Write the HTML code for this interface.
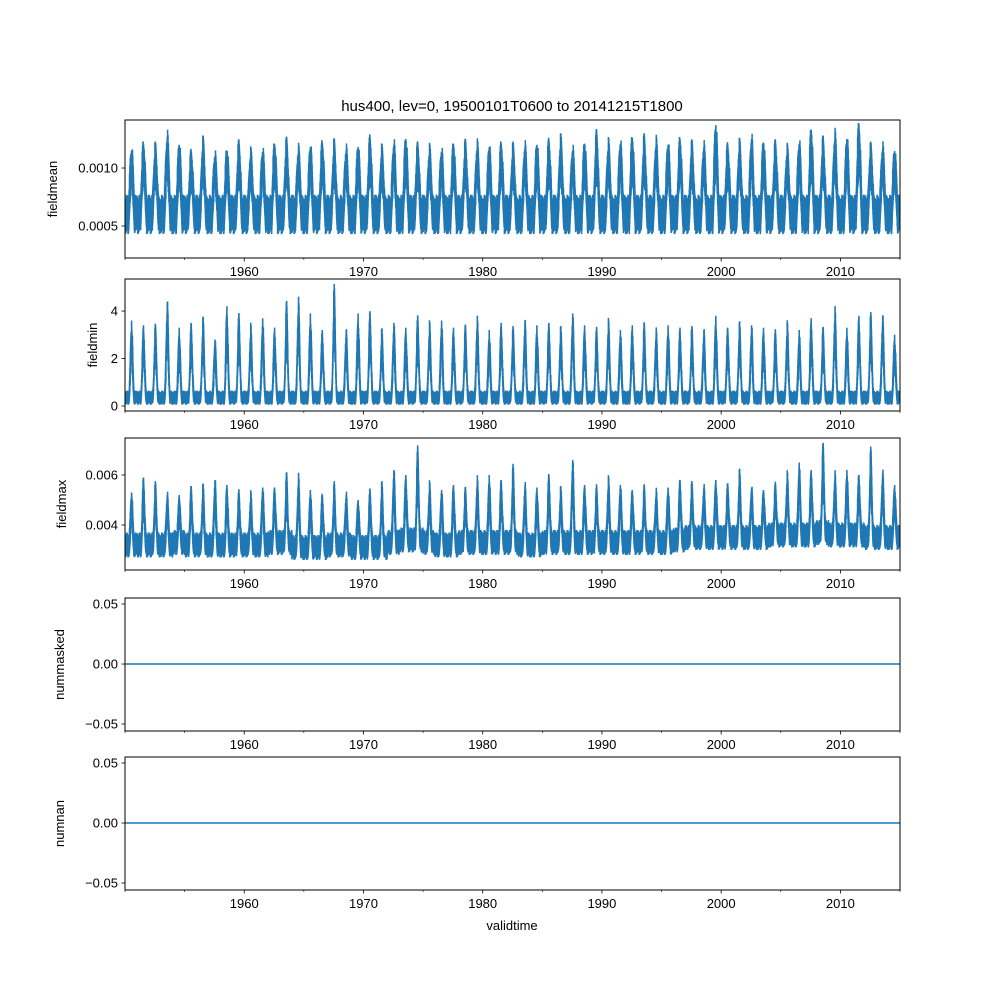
<!DOCTYPE html>
<html><head><meta charset="utf-8"><style>
body{margin:0;background:#fff}
svg{display:block}
text{font-family:"Liberation Sans","DejaVu Sans",sans-serif;font-size:13px;fill:#000}
</style></head><body>
<svg id="fig" width="1000" height="1000" xmlns="http://www.w3.org/2000/svg">
<rect width="1000" height="1000" fill="#fff"/>
<text x="512" y="111" text-anchor="middle" font-size="15" style="font-size:15px">hus400, lev=0, 19500101T0600 to 20141215T1800</text>
<text x="512" y="930" text-anchor="middle">validtime</text>
</svg>
<script>
// Annual peak values (1950..2014)
const years = [];
for (let y = 1950; y <= 2014; y++) years.push(y);
const meanPeaks = [1.15,1.2,1.17,1.27,1.2,1.12,1.22,1.1,1.15,1.2,1.12,1.14,1.2,1.22,1.15,1.18,1.21,1.2,1.15,1.18,1.25,1.15,1.2,1.25,1.18,1.15,1.14,1.2,1.2,1.19,1.18,1.2,1.17,1.18,1.2,1.22,1.24,1.15,1.21,1.29,1.2,1.21,1.26,1.25,1.22,1.2,1.24,1.19,1.18,1.37,1.18,1.2,1.25,1.22,1.2,1.15,1.21,1.33,1.23,1.28,1.25,1.37,1.17,1.17,1.14];
const meanBase = 0.6;
const minPeaks = [3.6,3.4,3.4,4.4,3.3,3.5,3.7,2.8,4.2,3.9,3.4,3.7,3.3,4.4,4.5,3.9,3.2,5.1,3.2,3.9,4.0,3.2,3.5,3.3,3.8,3.5,3.6,3.3,3.4,3.7,3.2,3.5,3.3,3.6,3.4,3.5,3.3,3.9,3.4,3.3,3.6,3.2,3.4,3.5,3.2,3.4,3.3,3.3,3.2,3.8,3.3,3.5,3.4,3.3,3.2,3.5,3.2,3.7,3.3,4.1,3.3,3.8,3.9,3.8,3.0];
const minBase = 0.35;
const maxPeaks = [5.3,5.9,5.6,5.2,5.2,5.5,5.5,5.8,5.6,5.3,5.2,5.5,5.5,6.0,5.9,5.4,5.2,5.6,5.2,5.0,5.4,5.6,6.2,6.0,7.1,5.6,5.4,5.6,5.4,5.8,6.0,5.8,6.3,5.6,5.5,6.0,5.4,6.6,5.6,5.5,5.8,5.6,5.4,5.5,5.3,5.5,5.8,5.6,5.5,5.8,5.6,6.1,5.5,5.4,5.6,6.0,6.5,6.2,7.2,6.0,6.2,6.0,7.0,6.1,5.6];
const maxBase = [3.2,3.2,3.2,3.2,3.3,3.2,3.2,3.2,3.2,3.2,3.2,3.2,3.3,3.3,3.1,3.1,3.1,3.2,3.2,3.1,3.1,3.1,3.3,3.4,3.4,3.3,3.2,3.2,3.3,3.3,3.3,3.3,3.3,3.2,3.2,3.3,3.3,3.3,3.3,3.3,3.3,3.3,3.3,3.3,3.3,3.3,3.4,3.5,3.5,3.5,3.5,3.5,3.5,3.5,3.6,3.6,3.6,3.6,3.7,3.6,3.6,3.6,3.5,3.5,3.5];
const zeroSeries = [0, 0];
const xTicks = [1960,1970,1980,1990,2000,2010];
const xMinor = [1955,1965,1975,1985,1995,2005,2015];
const jitter = [1,0.55,0.85,0.4,0.95,0.6,0.75,0.35,0.9,0.5,0.8,0.45,0.7,0.3,0.65];

const svg = document.getElementById('fig');
const NS = 'http://www.w3.org/2000/svg';
const X0 = 125, X1 = 900, T0 = 1950, T1 = 2015;
const xs = t => X0 + (t - T0) / (T1 - T0) * (X1 - X0);

function el(tag, attrs) { const e = document.createElementNS(NS, tag); for (const k in attrs) e.setAttribute(k, attrs[k]); svg.appendChild(e); return e; }

const panels = [
  {name:'fieldmean', top:120, bot:258, vTop:1.414, vBot:0.224, ticks:[0.5,1.0], labels:['0.0005','0.0010'], peaks:meanPeaks, base:()=>meanBase, noise:0.17, pow:1.2},
  {name:'fieldmin', top:279, bot:411, vTop:5.35, vBot:-0.21, ticks:[0,2,4], labels:['0','2','4'], peaks:minPeaks, base:()=>minBase, noise:0.3, pow:2.5},
  {name:'fieldmax', top:438, bot:570, vTop:7.48, vBot:2.2, ticks:[4,6], labels:['0.004','0.006'], peaks:maxPeaks, base:i=>maxBase[i], noise:0.5, pow:3},
  {name:'nummasked', top:598, bot:731, vTop:0.055, vBot:-0.0558, ticks:[-0.05,0,0.05], labels:['\u22120.05','0.00','0.05'], zero:true},
  {name:'numnan', top:757, bot:890, vTop:0.055, vBot:-0.0558, ticks:[-0.05,0,0.05], labels:['\u22120.05','0.00','0.05'], zero:true},
];

panels.forEach(p => {
  const ys = v => p.top + (p.vTop - v) / (p.vTop - p.vBot) * (p.bot - p.top);
  const clipId = 'clip-' + p.name;
  const cp = el('clipPath', {id: clipId});
  const r = document.createElementNS(NS, 'rect');
  r.setAttribute('x', X0); r.setAttribute('y', p.top); r.setAttribute('width', X1 - X0); r.setAttribute('height', p.bot - p.top);
  cp.appendChild(r);
  let d = '';
  if (p.zero) {
    zeroSeries.forEach((v, i) => { d += (i ? 'L' : 'M') + xs(i ? T1 : T0).toFixed(1) + ' ' + ys(v).toFixed(1); });
  } else {
    const N = 120;
    let first = true;
    years.forEach((yr, i) => {
      const pk = p.peaks[i], b = p.base(i);
      for (let k = 0; k < N; k++) {
        const f = k / N, t = yr + f;
        const s = Math.pow(Math.max(0, Math.cos(2 * Math.PI * (f - 0.55))), p.pow);
        const j = jitter[(k + i * 7) % jitter.length];
        const alt = (k % 2 ? 1 : -1);
        let v = b + (pk - b) * s * (k % 2 ? 0.75 + 0.25 * j : 0.3 + 0.4 * j) + p.noise * alt * (0.5 + 0.5 * j) * (1 - s * 0.6);
        if (Math.abs(f - 0.55) < 0.5 / N + 0.001) v = pk;
        d += (first ? 'M' : 'L') + xs(t).toFixed(1) + ' ' + ys(v).toFixed(1);
        first = false;
      }
    });
  }
  const line = el('path', {d, fill:'none', stroke:'#1f77b4', 'stroke-width':1.5, 'clip-path':'url(#' + clipId + ')'});
  
  
  const frame = el('rect', {x:X0, y:p.top, width:X1 - X0, height:p.bot - p.top, fill:'none', stroke:'#000', 'stroke-width':1});
  
  
  p.ticks.forEach((v, i) => {
    const y = ys(v);
    el('line', {x1:X0 - 3.5, x2:X0, y1:y, y2:y, stroke:'#000', 'stroke-width':0.8});
    const tx = el('text', {x:X0 - 7, y:y + 4.5, 'text-anchor':'end'});
    tx.textContent = p.labels[i];
    
    
  });
  xTicks.forEach(t => {
    const x = xs(t);
    el('line', {x1:x, x2:x, y1:p.bot, y2:p.bot + 3.5, stroke:'#000', 'stroke-width':0.8});
    const tx = el('text', {x:x, y:p.bot + 18, 'text-anchor':'middle'});
    tx.textContent = t;
    
    
  });
  xMinor.concat([1950]).forEach(t => {
    const x = xs(t);
    el('line', {x1:x, x2:x, y1:p.bot, y2:p.bot + 2, stroke:'#000', 'stroke-width':0.6});
  });
  const yl = el('text', {x:0, y:0, 'text-anchor':'middle', transform:'translate(' + (p.name === 'fieldmean' ? 57 : (p.name === 'fieldmin' ? 97 : (p.name === 'fieldmax' ? 66 : 64))) + ',' + ((p.top + p.bot) / 2) + ') rotate(-90)'});
  yl.textContent = p.name;
  
  
  if (p.offset) {
    const o = el('text', {x:X0, y:p.top - 4, 'text-anchor':'start'});
    o.textContent = p.offset;
    
    
  }
});
</script>
</body></html>
